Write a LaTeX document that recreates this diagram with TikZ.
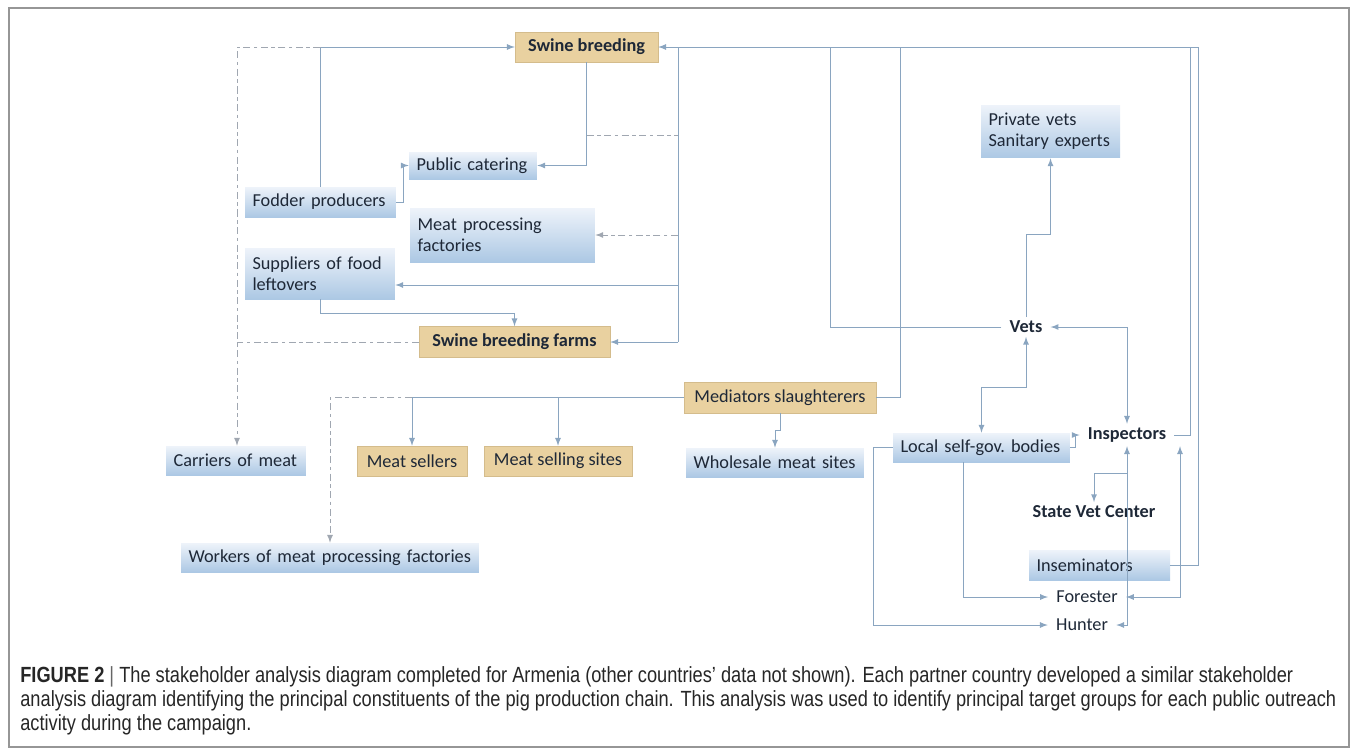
\documentclass[tikz,border=0pt]{standalone}
\usepackage{fontspec}
\setmainfont{Carlito}
\newfontfamily\capfont[FakeStretch=0.83]{Liberation Sans}
\definecolor{linkblue}{RGB}{138,165,192}
\definecolor{dashgray}{RGB}{160,167,177}
\definecolor{tanfill}{RGB}{233,209,160}
\definecolor{tanedge}{RGB}{212,188,140}
\definecolor{boxtop}{RGB}{238,243,250}
\definecolor{boxbot}{RGB}{172,200,228}
\definecolor{inktext}{RGB}{30,40,55}
\definecolor{framegray}{RGB}{150,150,150}

\begin{document}
\begin{tikzpicture}[>=latex, x=0.02cm, y=-0.02cm,
	every node/.style={font=\fontsize{10.4}{12}\selectfont, text=inktext},
	bluebox/.style 2 args={top color=boxtop, bottom color=boxbot, inner xsep=0.15cm, inner ysep=0pt, text width=#1, minimum height=#2, align=left},
	tanbox/.style 2 args={fill=tanfill, draw=tanedge, line width=0.3pt, inner sep=0pt, minimum width=#1, minimum height=#2},
	plainlabel/.style={inner xsep=0.16cm, inner ysep=2pt},
	wire/.style={draw=linkblue, line width=0.55pt},
	dashwire/.style={draw=dashgray, line width=0.55pt, dash pattern=on 4pt off 2pt on 2pt off 2pt}]

	\useasboundingbox (0,0) rectangle (1358,754);
	\draw[framegray, line width=0.6pt] (9,8) rectangle (1349,747);

	% upper part of the chain
	\node[tanbox={2.86cm}{0.6cm}, font=\fontsize{10.4}{12}\selectfont\bfseries] (swine) at (586.5,47) {Swine breeding};
	\node[bluebox={2.26cm}{0.54cm}] (catering) at (473,165.5) {Public catering};
	\node[bluebox={2.72cm}{0.6cm}] (fodder) at (320.5,202) {Fodder producers};
	\node[bluebox={3.4cm}{1.08cm}] (mpf) at (502.5,235) {Meat processing\\factories};
	\node[bluebox={2.7cm}{1.02cm}] (suppliers) at (320,273.5) {Suppliers of food\\leftovers};
	\node[tanbox={3.82cm}{0.62cm}, font=\fontsize{10.4}{12}\selectfont\bfseries] (farms) at (514.5,342) {Swine breeding farms};

	% meat trade
	\node[tanbox={3.84cm}{0.62cm}] (med) at (780,397.5) {Mediators slaughterers};
	\node[bluebox={3.26cm}{0.58cm}] (whole) at (775,462.5) {Wholesale meat sites};
	\node[bluebox={2.5cm}{0.58cm}] (carriers) at (236,460.5) {Carriers of meat};
	\node[tanbox={2.2cm}{0.6cm}] (sellers) at (412,461) {Meat sellers};
	\node[tanbox={2.96cm}{0.6cm}] (sites) at (558,461) {Meat selling sites};
	\node[bluebox={5.66cm}{0.58cm}] (workers) at (330,557.5) {Workers of meat processing factories};

	% veterinary side
	\node[bluebox={2.48cm}{1.06cm}] (private) at (1050.5,131.5) {Private vets\\Sanitary experts};
	\node[plainlabel, font=\fontsize{10.4}{12}\selectfont\bfseries] (vets) at (1026,327) {Vets};
	\node[bluebox={3.24cm}{0.58cm}] (local) at (981.5,447.5) {Local self-gov.\ bodies};
	\node[plainlabel, font=\fontsize{10.4}{12}\selectfont\bfseries] (insp) at (1127,435) {Inspectors};
	\node[plainlabel, font=\fontsize{10.4}{12}\selectfont\bfseries] (state) at (1094,512) {State Vet Center};
	\node[bluebox={2.52cm}{0.6cm}] (insem) at (1099.5,565) {Inseminators};
	\node[plainlabel] (forester) at (1087,597) {Forester};
	\node[plainlabel] (hunter) at (1082,625) {Hunter};

	\coordinate (fj) at (fodder.north |- swine.west);
	\coordinate (tl) at (237,47);
	\coordinate (rv) at (678,47);
	\coordinate (tr) at (1198,47);

	\draw[wire,->] (fodder.north) |- (swine.west);
	\draw[dashwire,->] (fj) -- (tl) -- (tl |- carriers.north);
	\draw[dashwire] (farms.west) -- (farms.west -| tl);
	\draw[wire,->] (fodder.east) -- ++(7,0) |- (catering.west);
	\draw[wire,->] (swine.south) |- (catering.east);
	\draw[dashwire] (swine.south |- 0,135) -- (rv |- 0,135);
	\draw[wire,->] (tr) -- (swine.east);
	\draw[wire] (rv) -- (rv |- farms.east);
	\draw[wire,->] (rv |- farms.east) -- (farms.east);
	\draw[dashwire,->] (rv |- mpf.east) -- (mpf.east);
	\draw[wire,->] (rv |- 0,285) -- (suppliers.east |- 0,285);
	\draw[wire,->] (suppliers.south) -- ++(0,14) -| (farms.north);

	\draw[wire] (vets.west) -| (830,47);
	\draw[wire] (med.east) -| (900,47);
	\draw[wire] (insp.east) -| (1190,47);
	\draw[wire] (insem.east) -| (tr);

	\draw[wire,->] (vets.north) |- (private.south |- 0,234) -- (private.south);
	\draw[wire,<->] (vets.east) -| (insp.north);
	\draw[wire,<->] (vets.south) -- (vets.south |- 0,387) -| (local.north);
	\draw[wire,->] (local.east) -- ++(5,0) |- (insp.west);
	\draw[wire,->] ([xshift=-0.37cm]local.south) |- (forester.west);
	\draw[wire,->] (local.west) -- ++(-19,0) |- (hunter.west);
	\draw[wire,<->] (insp.south) |- (hunter.east);
	\draw[wire,->] (insp.south |- 0,473) -| (state.north);
	\draw[wire,<->] (forester.east) -| (insp.south -| 1180,0);

	\draw[wire,->] (med.south) -- ++(0,17) -| (whole.north);
	\draw[wire] (med.west) -- (med.west -| sellers.north);
	\draw[wire,->] (med.west -| sellers.north) -- (sellers.north);
	\draw[wire,->] (med.west -| sites.north) -- (sites.north);
	\draw[dashwire,->] (med.west -| sellers.north) -| (workers.north);

	\node[anchor=north west, inner sep=0pt, align=left, text=black!85, font=\capfont\fontsize{12.5}{13.7}\selectfont] (caption) at (20,666)
	{\textbf{FIGURE 2} {\color{black!60}|} The stakeholder analysis diagram completed for Armenia (other countries’ data not shown). Each partner country developed a similar stakeholder\\
	analysis diagram identifying the principal constituents of the pig production chain. This analysis was used to identify principal target groups for each public outreach\\
	activity during the campaign.};

\end{tikzpicture}
\end{document}
